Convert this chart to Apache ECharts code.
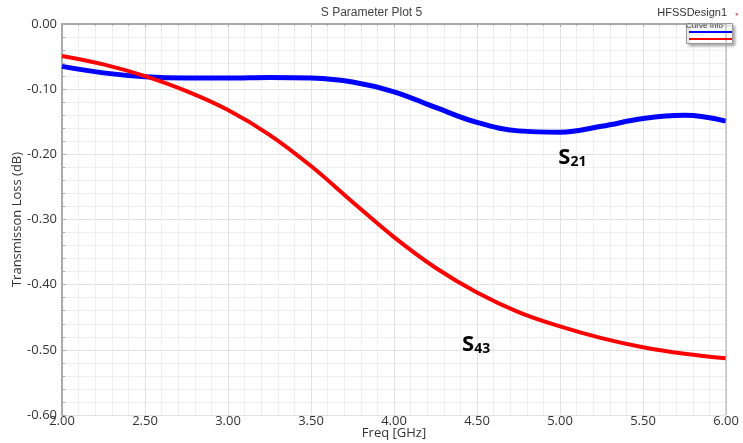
<!DOCTYPE html>
<html><head><meta charset="utf-8">
<script src="https://cdn.jsdelivr.net/npm/echarts@6/dist/echarts.min.js"></script>
<style>html,body{margin:0;padding:0;background:#fff}#c{width:743px;height:443px}</style>
</head><body><div id="c"></div>
<script>
const freq = [2.0,2.25,2.5,2.75,3.0,3.25,3.5,3.75,4.0,4.25,4.5,4.75,5.0,5.25,5.5,5.75,6.0];
const s21 = [-0.065,-0.075,-0.081,-0.083,-0.083,-0.082,-0.083,-0.089,-0.104,-0.128,-0.151,-0.164,-0.166,-0.157,-0.145,-0.140,-0.149];
const s43 = [-0.049,-0.062,-0.080,-0.103,-0.132,-0.170,-0.218,-0.273,-0.327,-0.374,-0.412,-0.442,-0.464,-0.482,-0.496,-0.506,-0.513];
const labelS21 = {x:4.99, y:-0.189, main:'S', sub:'21'};
const labelS43 = {x:4.41, y:-0.476, main:'S', sub:'43'};
const FONT = '"Open Sans", "Noto Sans", sans-serif';

const chart = echarts.init(document.getElementById('c'));
chart.setOption({
  animation:false,
  textStyle:{fontFamily:FONT},
  title:{text:'S Parameter Plot 5', left:'center', top:2, textStyle:{fontSize:12, fontWeight:'normal', color:'#444', fontFamily:'"Liberation Sans", Arial, sans-serif'}},
  grid:{left:62, right:17, top:24, bottom:28, containLabel:false, outerBoundsMode:'none'},
  legend:{
    right:11, top:31, padding:0, orient:'vertical', itemWidth:43, itemHeight:2, itemGap:5, z:20,
    icon:'rect', formatter:()=>'', textStyle:{fontSize:1, padding:0},
    data:['S21','S43']
  },
  xAxis:{
    type:'value', min:2, max:6, interval:0.5,
    name:'Freq [GHz]', nameLocation:'middle', nameGap:12, nameMoveOverlap:false,
    nameTextStyle:{color:'#333', fontSize:13, fontFamily:FONT},
    axisLine:{show:true, lineStyle:{color:'#aaa', width:2}},
    axisTick:{show:true, inside:false, length:3, lineStyle:{color:'#aaa'}},
    minorTick:{show:true, splitNumber:5, length:2, lineStyle:{color:'#aaa'}},
    axisLabel:{color:'#333', fontSize:13, margin:0, formatter:v=>v.toFixed(2)},
    splitLine:{show:true, lineStyle:{color:'#e2e2e2', width:1}},
    minorSplitLine:{show:true, lineStyle:{color:'#efefef', width:1}}
  },
  yAxis:{
    type:'value', min:-0.6, max:0, interval:0.1,
    name:'Transmisson Loss (dB)', nameLocation:'middle', nameGap:38, nameMoveOverlap:false,
    nameTextStyle:{color:'#333', fontSize:13, fontFamily:FONT},
    axisLine:{show:true, lineStyle:{color:'#aaa', width:2}},
    axisTick:{show:true, inside:true, length:4, lineStyle:{color:'#aaa'}},
    minorTick:{show:true, splitNumber:5, length:3, lineStyle:{color:'#aaa'}},
    axisLabel:{color:'#333', fontSize:13, margin:5, formatter:v=>v.toFixed(2)},
    splitLine:{show:true, lineStyle:{color:'#e2e2e2', width:1}},
    minorSplitLine:{show:true, lineStyle:{color:'#efefef', width:1}}
  },
  series:[
    {name:'S21', type:'line', smooth:0.4, showSymbol:false, data:freq.map((f,i)=>[f,s21[i]]), lineStyle:{color:'#0000ff', width:5}, itemStyle:{color:'#0000ff'}, z:3},
    {name:'S43', type:'line', smooth:0.4, showSymbol:false, data:freq.map((f,i)=>[f,s43[i]]), lineStyle:{color:'#ff0000', width:4}, itemStyle:{color:'#ff0000'}, z:4}
  ]
});

const gp = chart.getModel().getComponent('grid').coordinateSystem.getRect();
const p21 = chart.convertToPixel({gridIndex:0},[labelS21.x,labelS21.y]);
const p43 = chart.convertToPixel({gridIndex:0},[labelS43.x,labelS43.y]);
const rich = {m:{fontSize:22, fontWeight:'bold', color:'#111', fontFamily:'"Open Sans", sans-serif'}, s:{fontSize:14, fontWeight:'bold', color:'#111', fontFamily:'"Open Sans", sans-serif', padding:[8,0,0,0]}};
chart.setOption({graphic:[
  {type:'polyline', shape:{points:[[gp.x,gp.y],[gp.x+gp.width,gp.y],[gp.x+gp.width,gp.y+gp.height]]}, style:{stroke:'#aaa', lineWidth:1, fill:null}, z:10},
  {type:'text', x:p21[0], y:p21[1], style:{text:'{m|S}{s|21}', rich:rich}, z:20},
  {type:'text', x:p43[0], y:p43[1], style:{text:'{m|S}{s|43}', rich:rich}, z:20},
  {type:'text', right:16, top:7, style:{text:'HFSSDesign1', fontSize:11, fill:'#333', fontFamily:'"Liberation Sans", Arial, sans-serif'}},
  {type:'circle', right:5, top:13, shape:{r:1.2}, style:{fill:'#d66'}},
  {type:'rect', right:10, top:23, shape:{width:46, height:20}, style:{fill:'#fff', stroke:'#999', lineWidth:1, shadowBlur:3, shadowColor:'rgba(0,0,0,0.35)', shadowOffsetX:2, shadowOffsetY:2}, z:1},
  {type:'text', right:20, top:22, style:{text:'Curve Info', fontSize:8, fill:'#333', fontFamily:'"Liberation Sans", Arial, sans-serif'}, z:2}
]});
</script></body></html>
